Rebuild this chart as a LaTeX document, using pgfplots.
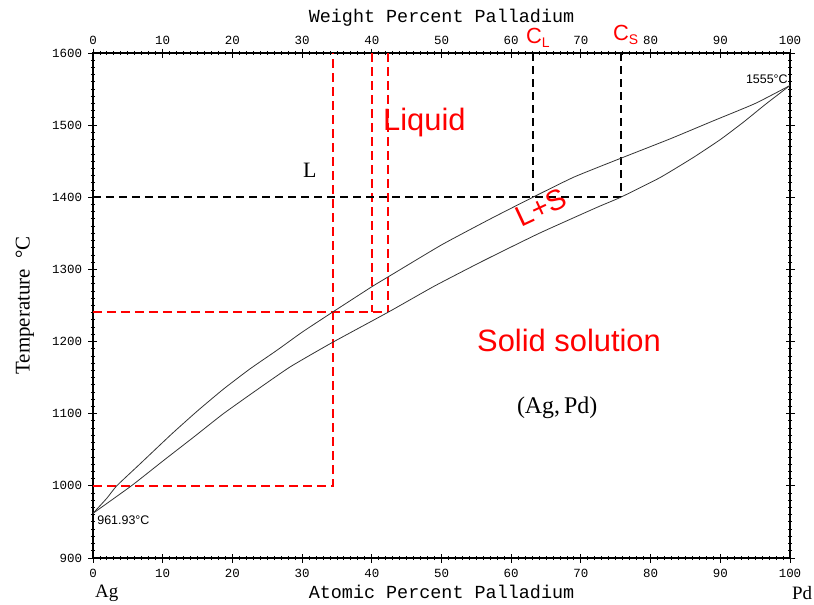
\documentclass[border=0pt]{standalone}
\usepackage{pgfplots}
\pgfplotsset{compat=1.18}
\usepackage{fontspec}
\setmainfont{Liberation Serif}
\newfontfamily\arial{Liberation Sans}
\newfontfamily\mono{Liberation Mono}

\pgfplotsset{
  phase/.style={
    scale only axis, width=697bp, height=505bp,
    xmin=0, xmax=100, ymin=900, ymax=1600,
    xtick={0,10,...,100}, ytick={900,1000,...,1600},
    /pgf/number format/assume math mode=true,
    /pgf/number format/1000 sep={},
    tick label style={font=\mono\fontsize{12.5}{13}\selectfont},
    axis line style={line width=1.1bp},
  }
}

\begin{document}
\begin{tikzpicture}
\path[use as bounding box] (-93bp,-47bp) rectangle (721bp,558bp);

% top scale (weight percent, practically the same as atomic percent for Ag-Pd)
\begin{axis}[phase, axis x line*=top, axis y line=none,
  xtick style={draw=none}, xticklabel style={yshift=5bp}]
\end{axis}

\begin{axis}[phase, clip=false,
  minor x tick num=9, minor y tick num=9,
  tick align=center, major tick length=9bp, minor tick length=4bp,
  tick style={black, line width=0.9bp},
  xticklabel style={yshift=-3bp}, yticklabel style={xshift=-3bp}]

% dashed construction lines
\addplot[red, line width=1.8bp, dash pattern=on 9bp off 5bp] coordinates {(0,1000) (34.4,1000) (34.4,1600)};
\addplot[red, line width=1.8bp, dash pattern=on 9bp off 5bp] coordinates {(0,1241) (42.3,1241)};
\addplot[red, line width=1.8bp, dash pattern=on 9bp off 5bp] coordinates {(40,1600) (40,1241)};
\addplot[red, line width=1.8bp, dash pattern=on 9bp off 5bp] coordinates {(42.3,1600) (42.3,1241)};
\addplot[black, line width=1.8bp, dash pattern=on 8bp off 5bp] coordinates {(0,1400) (75.7,1400)};
\addplot[black, line width=1.8bp, dash pattern=on 8bp off 5bp] coordinates {(63.1,1600) (63.1,1400)};
\addplot[black, line width=1.8bp, dash pattern=on 8bp off 5bp] coordinates {(75.7,1600) (75.7,1400)};

% liquidus
\addplot[black!80, line width=0.8bp, smooth, tension=0.3] coordinates {
(0,961.93) (2,983) (3.4,1000) (6.7,1030) (11.3,1072) (15,1104) (18.7,1134)
(22.5,1162) (26.4,1188) (30,1213) (34.4,1241) (40,1276) (42.4,1290) (50,1334)
(57,1370) (63.1,1400) (69,1428) (75.7,1454) (82.8,1481) (89,1506) (95,1530) (100,1555)};
% solidus
\addplot[black!80, line width=0.8bp, smooth, tension=0.3] coordinates {
(0,961.93) (5.5,1000) (10.1,1035) (14.5,1068) (18.7,1100) (23.5,1133) (28.3,1165)
(34.2,1198) (42.4,1241) (49,1277) (56,1312) (64,1350) (72.3,1386) (75.7,1400)
(81.3,1427) (86.1,1455) (90,1480) (93.3,1504) (96.5,1529) (100,1555)};

% region labels
\node[font=\fontsize{22}{22}\selectfont] at (axis cs:31.1,1437) {L};
\node[anchor=base west, inner sep=0, text=red, font=\arial\fontsize{31}{31}\selectfont] at (axis cs:41.6,1492.6) {Liquid};
\node[rotate=25, inner sep=0, text=red, font=\arial\fontsize{29}{29}\selectfont] at (axis cs:64.3,1386) {L+S};
\node[text=red, font=\arial\fontsize{31}{31}\selectfont] at (axis cs:68.3,1201.5) {Solid solution};
\node[font=\fontsize{24}{24}\selectfont] at (axis cs:66.6,1108.6) {(Ag,\,Pd)};
\node[anchor=base west, inner sep=0, text=red, font=\arial\fontsize{22}{22}\selectfont] at (axis cs:62.1,1613.2) {C\raisebox{-4bp}{\fontsize{14}{14}\selectfont L}};
\node[anchor=base west, inner sep=0, text=red, font=\arial\fontsize{22}{22}\selectfont] at (axis cs:74.6,1617.3) {C\raisebox{-4bp}{\fontsize{14}{14}\selectfont S}};
\node[anchor=east, inner sep=0, font=\arial\fontsize{12.5}{12.5}\selectfont] at (axis cs:99.7,1563.3) {1555°C};
\node[anchor=west, inner sep=0, font=\arial\fontsize{12.5}{12.5}\selectfont] at (axis cs:0.6,952) {961.93°C};

% axis titles
\node[font=\mono\fontsize{18.5}{18.5}\selectfont] at ([yshift=-34bp]axis description cs:0.5,0) {Atomic Percent Palladium};
\node[font=\mono\fontsize{18.5}{18.5}\selectfont] at ([yshift=35bp]axis description cs:0.5,1) {Weight Percent Palladium};
\node[rotate=90, font=\fontsize{21}{21}\selectfont] at ([xshift=-68bp]axis description cs:0,0.5) {Temperature\enspace °C};
\node[anchor=base west, inner sep=0, font=\fontsize{19}{19}\selectfont] at ([xshift=2bp,yshift=-39bp]axis description cs:0,0) {Ag};
\node[anchor=base west, inner sep=0, font=\fontsize{19}{19}\selectfont] at ([xshift=2bp,yshift=-41bp]axis description cs:1,0) {Pd};
\end{axis}
\end{tikzpicture}
\end{document}
